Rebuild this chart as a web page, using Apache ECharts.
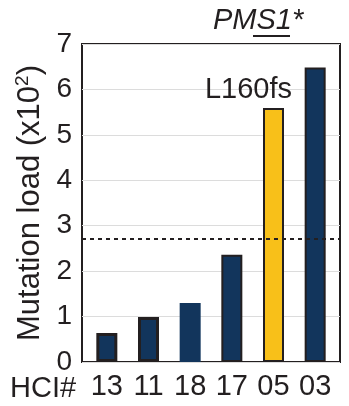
<!DOCTYPE html>
<html>
<head>
<meta charset="utf-8">
<script src="https://cdn.jsdelivr.net/npm/echarts@6/dist/echarts.min.js"></script>
<style>html,body{margin:0;padding:0;background:#fff}#c{width:349px;height:406px}</style>
</head>
<body>
<div id="c"></div>
<script>
// ---- data ----
var categories = ['13', '11', '18', '17', '05', '03'];
var mutationLoad = [0.64, 0.99, 1.30, 2.36, 5.59, 6.48];
var threshold = 2.71;
var yTicks = [0, 1, 2, 3, 4, 5, 6, 7];
var highlightIndex = 4;
var highlightLabel = 'L160fs';
var borderless = [2];

var FONT = 'Liberation Sans, Arial, Helvetica, sans-serif';
var NAVY = '#12355c', YELLOW = '#f8c019', INK = '#231f20';

var barData = mutationLoad.map(function (v, i) {
  var item = {
    value: v,
    itemStyle: {
      color: i === highlightIndex ? YELLOW : NAVY,
      borderColor: INK,
      borderWidth: borderless.indexOf(i) >= 0 ? 0 : (i < 2 ? 3 : 2)
    }
  };
  if (i === highlightIndex) {
    item.label = {
      show: true, position: 'top', distance: 4, offset: [-25, 0],
      formatter: highlightLabel, fontFamily: FONT, fontSize: 29, color: INK
    };
  }
  return item;
});

var chart = echarts.init(document.getElementById('c'), null, {renderer: 'canvas'});
chart.setOption({
  animation: false,
  backgroundColor: '#fff',
  grid: [
    {left: 82, right: 9, top: 44, bottom: 44, show: true, borderColor: INK, borderWidth: 2, backgroundColor: 'transparent'},
    {left: 86, right: 13, top: 44, bottom: 44}
  ],
  xAxis: [
    {gridIndex: 0, type: 'category', data: categories, show: false},
    {gridIndex: 1, type: 'category', data: categories,
     axisLine: {show: false}, axisTick: {show: false},
     axisLabel: {fontFamily: FONT, fontSize: 29, color: INK, margin: 10, interval: 0}}
  ],
  yAxis: [
    {gridIndex: 0, type: 'value', min: yTicks[0], max: yTicks[yTicks.length - 1], interval: 1,
     axisLine: {show: false}, axisTick: {show: false},
     splitLine: {show: true, lineStyle: {color: '#dcdcdc', width: 1}},
     axisLabel: {fontFamily: FONT, fontSize: 28, color: INK, margin: 10},
     name: 'Mutation load (x10{sup|2})', nameLocation: 'middle', nameGap: 21, nameRotate: 90,
     nameTextStyle: {fontFamily: FONT, fontSize: 31, color: INK,
       rich: {sup: {fontFamily: FONT, fontSize: 19, color: INK, verticalAlign: 'top', padding: [0, 0, 15, 0]}}}},
    {gridIndex: 1, type: 'value', min: yTicks[0], max: yTicks[yTicks.length - 1], interval: 1, show: false,
     splitLine: {show: false}}
  ],
  series: [
    {type: 'line', xAxisIndex: 0, yAxisIndex: 0, data: [], silent: true,
     markLine: {symbol: 'none', silent: true, label: {show: false},
       lineStyle: {color: INK, type: [4, 4], width: 2},
       data: [{yAxis: threshold}]}},
    {type: 'bar', xAxisIndex: 1, yAxisIndex: 1, barWidth: 21, data: barData}
  ],
  graphic: [
    {type: 'text', left: 10, top: 374, style: {text: 'HCI#', font: '29px ' + FONT, fill: INK}},
    {type: 'text', left: 213, top: 6, style: {text: 'PMS1*', font: 'italic 29px ' + FONT, fill: INK}},
    {type: 'line', shape: {x1: 253, y1: 36, x2: 290, y2: 36}, style: {stroke: INK, lineWidth: 2}}
  ]
});
</script>
</body>
</html>
